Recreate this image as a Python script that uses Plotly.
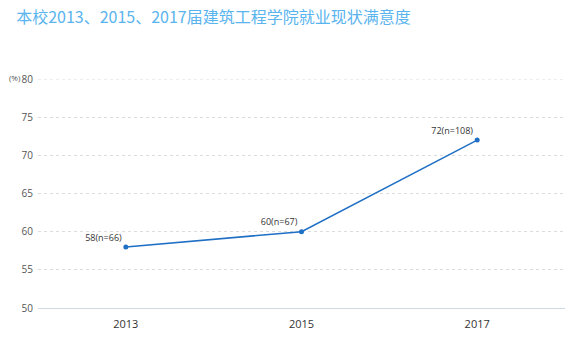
import plotly.graph_objects as go

years = ["2013", "2015", "2017"]
values = [58, 60, 72]
counts = [66, 67, 108]
labels = [f"{v}(n={n})" for v, n in zip(values, counts)]
title = "本校2013、2015、2017届建筑工程学院就业现状满意度"

fig = go.Figure()
fig.add_trace(go.Scatter(
    x=years, y=values, mode="lines+markers+text",
    text=labels, textposition="top left",
    textfont=dict(size=9, color="#333333", family="Open Sans, Noto Sans CJK SC"),
    line=dict(color="#1f6fc5", width=1.5),
    marker=dict(size=5, color="#1f6fc5"),
    cliponaxis=False, hoverinfo="skip",
))

fig.update_layout(
    width=577, height=347,
    margin=dict(l=38, r=12, t=79, b=39),
    paper_bgcolor="white", plot_bgcolor="white",
    showlegend=False,
    font=dict(family="Open Sans, Noto Sans CJK SC", color="#444444"),
    title=dict(text=title, x=0.028, xanchor="left", y=0.95, yanchor="middle",
               font=dict(size=16, color="#5ab4ee", family="Noto Sans CJK SC")),
    xaxis=dict(type="category", range=[-0.5, 2.5], showgrid=False,
               showline=True, linecolor="#d0dae4", linewidth=1,
               ticks="", tickfont=dict(size=11, color="#333333"),
               ticklabelstandoff=6),
    yaxis=dict(range=[50, 80], tickvals=[50, 55, 60, 65, 70, 75, 80],
               showgrid=True, gridcolor="#dcdcdc", griddash="dot", gridwidth=1,
               zeroline=False, showline=False, ticks="",
               tickfont=dict(size=10, color="#555555"), ticklabelstandoff=4),
)
fig.add_shape(type="line", xref="paper", yref="y", x0=0, x1=1, y0=80, y1=80,
              line=dict(color="#dcdcdc", width=1, dash="dot"), layer="below")
fig.add_annotation(text="(%)", xref="paper", yref="y", x=0, y=80,
                   xanchor="right", yanchor="middle", xshift=-15, yshift=2,
                   showarrow=False, font=dict(size=8, color="#555555"))
fig.write_html("out.html")
